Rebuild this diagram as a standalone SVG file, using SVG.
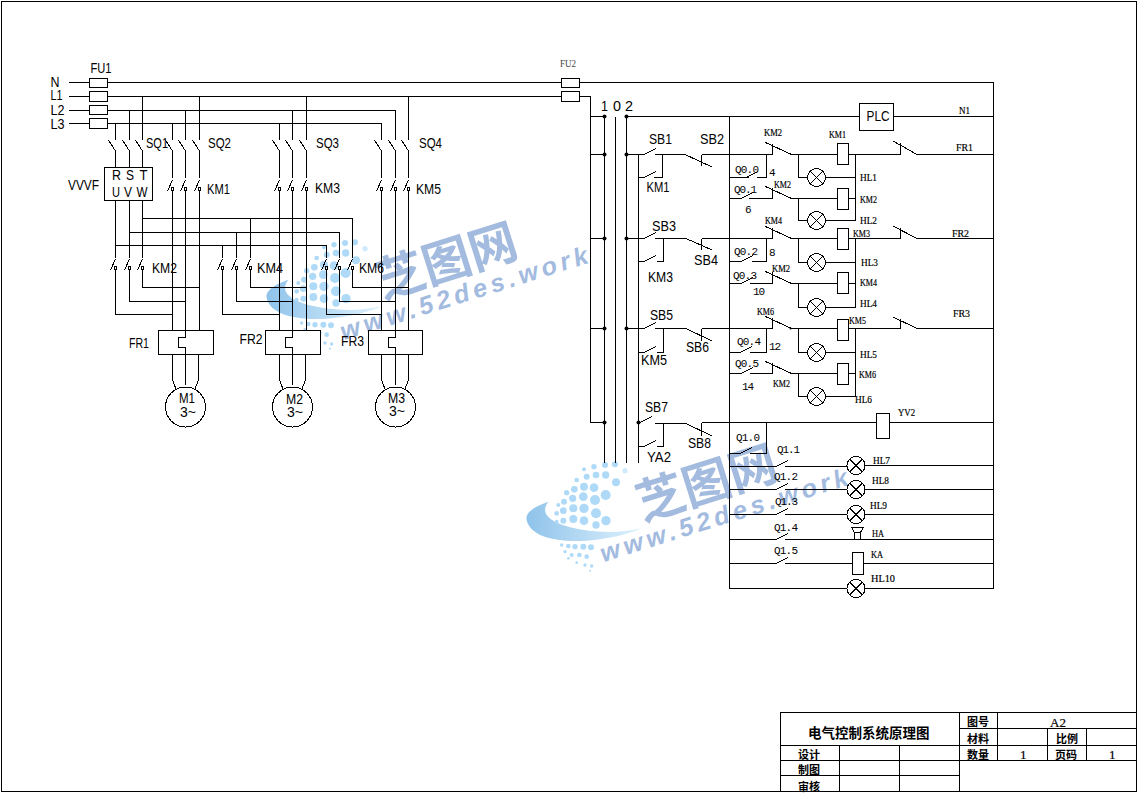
<svg xmlns="http://www.w3.org/2000/svg" xmlns:xlink="http://www.w3.org/1999/xlink" width="1138" height="793" viewBox="0 0 1138 793">
<style>
.w{fill:none;stroke:#000;stroke-width:1;shape-rendering:crispEdges}
.n{fill:#fff;stroke:#000;stroke-width:1;shape-rendering:crispEdges}
.nf{fill:none;stroke:#000;stroke-width:1;shape-rendering:crispEdges}
text{fill:#000}
.s{font:14px "Liberation Sans",sans-serif}
.m{font:11px "Liberation Mono",monospace}
.b{font:11px "Liberation Serif",serif;stroke:#000;stroke-width:.2}
.t{font:bold 11px "Noto Sans CJK SC",sans-serif}
.wd{fill:#aedaf8}
</style>
<defs>
<linearGradient id="sw" x1="0" x2="1" y1="0" y2="0"><stop offset="0" stop-color="#8fc3ea"/><stop offset="1" stop-color="#dff2fd"/></linearGradient>
<g id="wm">
<path fill="url(#sw)" d="M85 155C40 170 15 190 20 210C30 260 110 278 200 272C260 268 320 255 365 235C300 250 220 250 150 232C100 218 55 195 85 155Z"/>
<g class="wd">
<circle cx="315" cy="62" r="8" fill="#cfeafc"/><circle cx="285" cy="43" r="9"/><circle cx="255" cy="45" r="9"/><circle cx="222" cy="50" r="8"/><circle cx="192" cy="58" r="6"/>
<circle cx="288" cy="97" r="12"/><circle cx="257" cy="75" r="11"/><circle cx="228" cy="75" r="10"/><circle cx="200" cy="80" r="9"/><circle cx="170" cy="90" r="7"/>
<circle cx="257" cy="135" r="15"/><circle cx="222" cy="113" r="13"/><circle cx="192" cy="110" r="12"/><circle cx="163" cy="118" r="10"/><circle cx="140" cy="128" r="8"/>
<circle cx="225" cy="150" r="15"/><circle cx="190" cy="140" r="13"/><circle cx="158" cy="145" r="11"/><circle cx="132" cy="155" r="9"/><circle cx="115" cy="165" r="6"/>
<circle cx="258" cy="212" r="14"/><circle cx="228" cy="190" r="15"/><circle cx="192" cy="175" r="14"/><circle cx="160" cy="175" r="12"/><circle cx="130" cy="182" r="10"/><circle cx="110" cy="190" r="7"/>
<circle cx="228" cy="225" r="11"/><circle cx="192" cy="212" r="13"/><circle cx="160" cy="207" r="12"/><circle cx="130" cy="212" r="9"/><circle cx="110" cy="215" r="6"/>
<circle cx="213" cy="292" r="9"/><circle cx="190" cy="290" r="9"/><circle cx="165" cy="290" r="8"/><circle cx="145" cy="288" r="7"/><circle cx="125" cy="285" r="5"/>
<circle cx="200" cy="320" r="7"/><circle cx="178" cy="315" r="7"/><circle cx="155" cy="315" r="6"/><circle cx="135" cy="305" r="5"/>
<circle cx="215" cy="348" r="5"/><circle cx="195" cy="345" r="5"/><circle cx="170" cy="338" r="4"/><circle cx="145" cy="325" r="4"/><circle cx="210" cy="362" r="3"/>
</g>
<text x="368" y="214" transform="rotate(-17.5 368 214)" style="font:bold 145px 'Noto Sans CJK SC',sans-serif;fill:#a3bbdf">芝图网</text>
<text x="250" y="337" transform="rotate(-17.5 250 337)" textLength="775" lengthAdjust="spacing" style="font:italic bold 76px 'Liberation Sans',sans-serif;fill:#a3bbdf">www.52des.work</text>
</g>
<g id="lamp"><circle class="n" r="9"/><path class="nf" d="M-6.4 -6.4L6.4 6.4M-6.4 6.4L6.4 -6.4"/></g>
<g id="coil"><rect class="n" x="0" y="0" width="11" height="21"/></g>
<path id="hi" class="nf" d="M-7 0L0 11"/>
<g id="lo"><path class="nf" d="M-5 12L0 1"/><circle class="nf" cx="0" cy="10" r="1.5"/></g>
<path id="no" class="nf" d="M0 0L12 -6"/>
<g id="nc"><path class="nf" d="M0 -11V0M-7 -12L19 0"/></g>
</defs>

<rect id="frame" class="nf" x="1.5" y="1.5" width="1135" height="790"/>
<use xlink:href="#wm" href="#wm" transform="translate(260 228) scale(.3333)"/>
<use xlink:href="#wm" href="#wm" transform="translate(520 450) scale(.3333)"/>

<g id="connectors">
<path class="w" d="M69 82.5H993.5V588.5H729.5V116.5M69 96.5H590.5V422.5H604.5M69 110.5H395.5V140M69 123.5H381.5V140
M590.5 116.5H604.5M590.5 154.5H604.5M590.5 238.5H604.5M590.5 328.5H604.5M604.5 116.5V463M615.5 116.5V463M626.5 116.5V463M638.5 154.5V463
M626.5 116.5H859.5M894 116.5H993.5"/>
<path class="w" d="M115.5 123.5V140M115.5 151V167M129.5 110.5V140M129.5 151V167M142.5 96.5V140M142.5 151V167
M172.5 123.5V140M172.5 151V178M172.5 191V330M185.5 110.5V140M185.5 151V178M185.5 191V330M199.5 96.5V140M199.5 151V178M199.5 191V330
M279.5 123.5V140M279.5 151V178M279.5 191V330M292.5 110.5V140M292.5 151V178M292.5 191V330M306.5 96.5V140M306.5 151V178M306.5 191V330
M381.5 151V178M381.5 191V330M395.5 151V178M395.5 191V330M408.5 96.5V140M408.5 151V178M408.5 191V330
M115.5 200V258M129.5 200V258M142.5 200V258
M142.5 218.5H352.5V258M129.5 232.5H339.5V258M115.5 245.5H326.5V258
M250.5 218.5V258M236.5 232.5V258M222.5 245.5V258
M115.5 270V314.5H172.5M129.5 270V301.5H185.5M142.5 270V287.5H199.5
M222.5 270V314.5H279.5M236.5 270V301.5H292.5M250.5 270V287.5H306.5
M326.5 270V314.5H381.5M339.5 270V301.5H395.5M352.5 270V287.5H408.5
M172.5 354V380L176 389M185.5 354V385M198.5 354V380L195 389
M279.5 354V380L283 389M292.5 354V385M305.5 354V380L302 389
M381.5 354V380L385 389M395.5 354V385M408.5 354V380L405 389"/>
<path class="w" d="M626.5 154.5H644M655 154.5H685M701.5 154.5H729.5M638.5 177.5H644M654 177.5H662.5V154.5
M626.5 238.5H644M655 238.5H686M701.5 238.5H729.5M638.5 261.5H644M657 261.5H663.5V238.5
M626.5 328.5H644M655 328.5H686M701.5 328.5H729.5M638.5 352.5H644M657 352.5H663.5V328.5
M638.5 422.5H640M655 423.5H686M701.5 422.5H875.5M889.5 422.5H993.5M638.5 446.5H644M657 446.5H663.5V423.5
M729.5 154.5H772.5M791 154.5H837M848 154.5H900.5M917 154.5H993.5M798.5 154.5V177.5H807M825 177.5H855.5M855.5 154.5V220.5H825M848 198.5H855.5
M729.5 177.5H749M757 177.5H766.5V154.5M729.5 198.5H741M749 198.5H772.5V188M790 198.5H837M798.5 198.5V220.5H807
M729.5 238.5H772.5M791 238.5H837M848 238.5H900.5M917 238.5H993.5M798.5 238.5V262.5H807M825 262.5H855.5M855.5 238.5V307.5H825M848 283.5H855.5
M729.5 261.5H741M752 261.5H766.5V238.5M729.5 283.5H741M750 283.5H772.5V272M790 283.5H837M798.5 283.5V307.5H807
M729.5 328.5H772.5M791 328.5H837M848 328.5H900.5M917 328.5H993.5M798.5 328.5V352.5H807M825 352.5H855.5M855.5 328.5V396.5H825M848 373.5H855.5
M729.5 352.5H740M750 352.5H766.5V328.5M729.5 373.5H741M750 373.5H772.5V363M790 373.5H837M798.5 373.5V396.5H807
M729.5 453.5H740M750 453.5H766.5V422.5
M729.5 466.5H776M785 466.5H847M865 465.5H993.5M729.5 489.5H776M785 489.5H847M865 489.5H993.5M729.5 514.5H776M785 514.5H847M865 514.5H993.5M729.5 539.5H776M785 539.5H993.5M729.5 563.5H776M785 563.5H852M863 563.5H993.5"/>
<path class="w" d="M685 154.5L712 167M701.5 154.5V166M686 238.5L712 250M701.5 238.5V250M686 328.5L712 341M701.5 328.5V341M686 423.5L712 436M701.5 422.5V436"/>
<path class="w" d="M900.5 143V154.5M893 141L917 154.5M900.5 228V238.5M893 226L917 238.5M900.5 319V328.5M893 317L917 328.5"/>
</g>

<g id="contacts">
<use href="#hi" x="115.5" y="140"/><use href="#hi" x="129.5" y="140"/><use href="#hi" x="142.5" y="140"/>
<use href="#hi" x="172.5" y="140"/><use href="#hi" x="185.5" y="140"/><use href="#hi" x="199.5" y="140"/>
<use href="#hi" x="279.5" y="140"/><use href="#hi" x="292.5" y="140"/><use href="#hi" x="306.5" y="140"/>
<use href="#hi" x="381.5" y="140"/><use href="#hi" x="395.5" y="140"/><use href="#hi" x="408.5" y="140"/>
<use href="#lo" x="172.5" y="179"/><use href="#lo" x="185.5" y="179"/><use href="#lo" x="199.5" y="179"/>
<use href="#lo" x="279.5" y="179"/><use href="#lo" x="292.5" y="179"/><use href="#lo" x="306.5" y="179"/>
<use href="#lo" x="381.5" y="179"/><use href="#lo" x="395.5" y="179"/><use href="#lo" x="408.5" y="179"/>
<use href="#lo" x="115.5" y="258"/><use href="#lo" x="129.5" y="258"/><use href="#lo" x="142.5" y="258"/>
<use href="#lo" x="222.5" y="258"/><use href="#lo" x="236.5" y="258"/><use href="#lo" x="250.5" y="258"/>
<use href="#lo" x="326.5" y="258"/><use href="#lo" x="339.5" y="258"/><use href="#lo" x="352.5" y="258"/>
<use href="#no" x="644" y="154.5"/><use href="#no" x="644" y="177.5"/><use href="#no" x="644" y="238.5"/><use href="#no" x="644" y="261.5"/>
<use href="#no" x="644" y="328.5"/><use href="#no" x="644" y="352.5"/><use href="#no" x="640" y="422.5"/><use href="#no" x="644" y="446.5"/>
<use href="#no" x="746" y="177.5"/><use href="#no" x="741" y="198.5"/><use href="#no" x="741" y="261.5"/><use href="#no" x="741" y="283.5"/>
<use href="#no" x="740" y="352.5"/><use href="#no" x="741" y="373.5"/><use href="#no" x="740" y="453.5"/>
<use href="#no" x="776" y="466.5"/><use href="#no" x="776" y="489.5"/><use href="#no" x="776" y="514.5"/><use href="#no" x="776" y="539.5"/><use href="#no" x="776" y="563.5"/>
<use href="#nc" x="772.5" y="154.5"/><use href="#nc" x="772.5" y="198.5"/><use href="#nc" x="772.5" y="238.5"/><use href="#nc" x="772.5" y="283.5"/><use href="#nc" x="772.5" y="328.5"/><use href="#nc" x="772.5" y="373.5"/>
<circle cx="790.5" cy="328.5" r="1" fill="#000"/>
</g>

<g id="junctions" fill="#000">
<circle cx="604.5" cy="116.5" r="2"/><circle cx="626.5" cy="116.5" r="2"/><circle cx="604.5" cy="154.5" r="2"/><circle cx="626.5" cy="154.5" r="2"/>
<circle cx="604.5" cy="238.5" r="2"/><circle cx="626.5" cy="238.5" r="2"/><circle cx="604.5" cy="328.5" r="2"/><circle cx="626.5" cy="328.5" r="2"/>
<circle cx="604.5" cy="422.5" r="2"/><circle cx="638.5" cy="422.5" r="2"/>
</g>

<g id="FU1">
<rect class="n" x="89.5" y="78.5" width="18" height="9"/><rect class="n" x="89.5" y="91.5" width="18" height="10"/><rect class="n" x="89.5" y="105.5" width="18" height="9"/><rect class="n" x="89.5" y="118.5" width="18" height="10"/>
<text class="s" x="90.5" y="73" textLength="21" lengthAdjust="spacingAndGlyphs">FU1</text>
<text class="s" x="50.5" y="87" textLength="9" lengthAdjust="spacingAndGlyphs">N</text>
<text class="s" x="50.5" y="100" textLength="12" lengthAdjust="spacingAndGlyphs">L1</text>
<text class="s" x="50.5" y="115" textLength="14" lengthAdjust="spacingAndGlyphs">L2</text>
<text class="s" x="50.5" y="129" textLength="14" lengthAdjust="spacingAndGlyphs">L3</text>
</g>
<g id="FU2">
<rect class="n" x="561.5" y="78.5" width="18" height="9"/><rect class="n" x="561.5" y="91.5" width="18" height="10"/>
<text class="b" x="560" y="67" textLength="16" lengthAdjust="spacingAndGlyphs" style="fill:#444;stroke:none">FU2</text>
</g>
<g id="VVVF">
<rect class="n" x="104.5" y="167.5" width="48" height="33"/>
<text class="s" x="68" y="190" textLength="31" lengthAdjust="spacingAndGlyphs">VVVF</text>
<text class="s" x="112" y="180" textLength="9" lengthAdjust="spacingAndGlyphs">R</text><text class="s" x="126" y="180" textLength="8" lengthAdjust="spacingAndGlyphs">S</text><text class="s" x="139.5" y="180" textLength="8" lengthAdjust="spacingAndGlyphs">T</text>
<text class="s" x="112" y="197" textLength="8" lengthAdjust="spacingAndGlyphs">U</text><text class="s" x="124" y="197" textLength="8" lengthAdjust="spacingAndGlyphs">V</text><text class="s" x="136.5" y="197" textLength="11" lengthAdjust="spacingAndGlyphs">W</text>
</g>
<g id="switch-labels">
<text class="s" x="146" y="148" textLength="22" lengthAdjust="spacingAndGlyphs">SQ1</text>
<text class="s" x="208" y="148" textLength="23" lengthAdjust="spacingAndGlyphs">SQ2</text>
<text class="s" x="316" y="148" textLength="23" lengthAdjust="spacingAndGlyphs">SQ3</text>
<text class="s" x="419" y="148" textLength="23" lengthAdjust="spacingAndGlyphs">SQ4</text>
<text class="s" x="207" y="194" textLength="23" lengthAdjust="spacingAndGlyphs">KM1</text>
<text class="s" x="315" y="193" textLength="25" lengthAdjust="spacingAndGlyphs">KM3</text>
<text class="s" x="416" y="194" textLength="25" lengthAdjust="spacingAndGlyphs">KM5</text>
<text class="s" x="152" y="273" textLength="25" lengthAdjust="spacingAndGlyphs">KM2</text>
<text class="s" x="257" y="273" textLength="26" lengthAdjust="spacingAndGlyphs">KM4</text>
<text class="s" x="359" y="273" textLength="25" lengthAdjust="spacingAndGlyphs">KM6</text>
</g>
<g id="FR1"><path class="n" d="M158.5 330.5H213.5V354.5H158.5Z"/><path class="nf" d="M185.5 330V337.5H178.5V347.5H185.5V354"/><text class="s" x="129" y="348" textLength="20" lengthAdjust="spacingAndGlyphs">FR1</text></g>
<g id="FR2"><path class="n" d="M265.5 330.5H320.5V354.5H265.5Z"/><path class="nf" d="M292.5 330V337.5H285.5V347.5H292.5V354"/><text class="s" x="239.5" y="344" textLength="23" lengthAdjust="spacingAndGlyphs">FR2</text></g>
<g id="FR3"><path class="n" d="M368.5 330.5H422.5V354.5H368.5Z"/><path class="nf" d="M395.5 330V337.5H388.5V347.5H395.5V354"/><text class="s" x="341" y="346" textLength="23" lengthAdjust="spacingAndGlyphs">FR3</text></g>
<g id="M1"><circle class="n" cx="185.5" cy="407" r="20"/><text class="s" x="179" y="403" textLength="16" lengthAdjust="spacingAndGlyphs">M1</text><text class="s" x="180" y="417" textLength="16" lengthAdjust="spacingAndGlyphs">3~</text></g>
<g id="M2"><circle class="n" cx="292.5" cy="407" r="20"/><text class="s" x="286" y="404" textLength="17" lengthAdjust="spacingAndGlyphs">M2</text><text class="s" x="287" y="417" textLength="16" lengthAdjust="spacingAndGlyphs">3~</text></g>
<g id="M3"><circle class="n" cx="395.5" cy="407" r="20"/><text class="s" x="388" y="403" textLength="17" lengthAdjust="spacingAndGlyphs">M3</text><text class="s" x="389" y="416" textLength="16" lengthAdjust="spacingAndGlyphs">3~</text></g>

<g id="bus-labels">
<text class="s" x="601" y="111" textLength="7" lengthAdjust="spacingAndGlyphs">1</text><text class="s" x="613" y="111" textLength="8" lengthAdjust="spacingAndGlyphs">0</text><text class="s" x="625" y="111" textLength="8" lengthAdjust="spacingAndGlyphs">2</text>
</g>
<g id="button-labels">
<text class="s" x="649" y="144" textLength="23" lengthAdjust="spacingAndGlyphs">SB1</text>
<text class="s" x="700" y="144" textLength="24" lengthAdjust="spacingAndGlyphs">SB2</text>
<text class="s" x="646.5" y="192" textLength="23" lengthAdjust="spacingAndGlyphs">KM1</text>
<text class="s" x="652" y="231" textLength="24" lengthAdjust="spacingAndGlyphs">SB3</text>
<text class="s" x="694" y="265" textLength="24" lengthAdjust="spacingAndGlyphs">SB4</text>
<text class="s" x="648" y="282" textLength="25" lengthAdjust="spacingAndGlyphs">KM3</text>
<text class="s" x="650" y="320" textLength="23" lengthAdjust="spacingAndGlyphs">SB5</text>
<text class="s" x="686" y="352" textLength="23" lengthAdjust="spacingAndGlyphs">SB6</text>
<text class="s" x="641" y="365" textLength="26" lengthAdjust="spacingAndGlyphs">KM5</text>
<text class="s" x="645" y="412" textLength="23" lengthAdjust="spacingAndGlyphs">SB7</text>
<text class="s" x="688" y="448" textLength="23" lengthAdjust="spacingAndGlyphs">SB8</text>
<text class="s" x="647" y="462" textLength="24" lengthAdjust="spacingAndGlyphs">YA2</text>
</g>
<g id="PLC"><rect class="n" x="859.5" y="103.5" width="34" height="27"/><text class="s" x="866.5" y="121" textLength="23" lengthAdjust="spacingAndGlyphs">PLC</text></g>

<g id="Q-labels">
<text class="m" x="735" y="173" textLength="24">Q0.0</text><text class="m" x="734" y="193" textLength="23">Q0.1</text>
<text class="m" x="734" y="255" textLength="24">Q0.2</text><text class="m" x="733" y="279" textLength="24">Q0.3</text>
<text class="m" x="737" y="345" textLength="24">Q0.4</text><text class="m" x="735" y="367" textLength="24">Q0.5</text>
<text class="m" x="736" y="441" textLength="24">Q1.0</text><text class="m" x="777" y="453" textLength="23">Q1.1</text>
<text class="m" x="774" y="480" textLength="24">Q1.2</text><text class="m" x="775" y="505" textLength="23">Q1.3</text>
<text class="m" x="774" y="531" textLength="24">Q1.4</text><text class="m" x="774" y="554" textLength="24">Q1.5</text>
<text class="m" x="769" y="176">4</text><text class="m" x="745" y="213">6</text><text class="m" x="769" y="256">8</text>
<text class="m" x="753" y="295" textLength="12">10</text><text class="m" x="769" y="350" textLength="12">12</text><text class="m" x="742" y="390" textLength="12">14</text>
</g>

<g id="coils">
<use href="#coil" x="837.5" y="143.5"/><use href="#coil" x="837.5" y="188.5"/><use href="#coil" x="837.5" y="228.5"/><use href="#coil" x="837.5" y="272.5"/><use href="#coil" x="837.5" y="319.5"/><use href="#coil" x="837.5" y="363.5"/>
<rect class="n" x="876.5" y="413.5" width="13" height="25"/>
<rect class="n" x="852.5" y="552.5" width="11" height="22"/>
</g>
<g id="lamps">
<use href="#lamp" x="816.5" y="177.5"/><use href="#lamp" x="816.5" y="220.5"/><use href="#lamp" x="816.5" y="262.5"/><use href="#lamp" x="816.5" y="307.5"/><use href="#lamp" x="816.5" y="352.5"/><use href="#lamp" x="816.5" y="396.5"/>
<use href="#lamp" x="856" y="465.5"/><use href="#lamp" x="856" y="489.5"/><use href="#lamp" x="856" y="514.5"/><use href="#lamp" x="856" y="588.5"/>
</g>
<g id="HA"><path class="n" d="M851.5 527.5H863.5L860.5 532.5H854.5ZM854.5 532.5V539.5M860.5 532.5V539.5"/><text class="b" x="872" y="537" textLength="12" lengthAdjust="spacingAndGlyphs">HA</text></g>

<g id="device-labels">
<text class="b" x="764" y="136" textLength="18" lengthAdjust="spacingAndGlyphs">KM2</text><text class="b" x="829" y="138" textLength="17" lengthAdjust="spacingAndGlyphs">KM1</text>
<text class="b" x="959" y="114" textLength="11" lengthAdjust="spacingAndGlyphs">N1</text><text class="b" x="956" y="151" textLength="17" lengthAdjust="spacingAndGlyphs">FR1</text>
<text class="b" x="860" y="181" textLength="17" lengthAdjust="spacingAndGlyphs">HL1</text><text class="b" x="774" y="188" textLength="17" lengthAdjust="spacingAndGlyphs">KM2</text>
<text class="b" x="860" y="203" textLength="17" lengthAdjust="spacingAndGlyphs">KM2</text><text class="b" x="860" y="224" textLength="17" lengthAdjust="spacingAndGlyphs">HL2</text>
<text class="b" x="765" y="224" textLength="17" lengthAdjust="spacingAndGlyphs">KM4</text><text class="b" x="853" y="237" textLength="17" lengthAdjust="spacingAndGlyphs">KM3</text>
<text class="b" x="952" y="237" textLength="17" lengthAdjust="spacingAndGlyphs">FR2</text><text class="b" x="861" y="266" textLength="17" lengthAdjust="spacingAndGlyphs">HL3</text>
<text class="b" x="772" y="272" textLength="18" lengthAdjust="spacingAndGlyphs">KM2</text><text class="b" x="860" y="286" textLength="17" lengthAdjust="spacingAndGlyphs">KM4</text>
<text class="b" x="860" y="307" textLength="17" lengthAdjust="spacingAndGlyphs">HL4</text><text class="b" x="757" y="315" textLength="17" lengthAdjust="spacingAndGlyphs">KM6</text>
<text class="b" x="849" y="324" textLength="17" lengthAdjust="spacingAndGlyphs">KM5</text><text class="b" x="953" y="317" textLength="17" lengthAdjust="spacingAndGlyphs">FR3</text>
<text class="b" x="860" y="358" textLength="17" lengthAdjust="spacingAndGlyphs">HL5</text><text class="b" x="859" y="378" textLength="17" lengthAdjust="spacingAndGlyphs">KM6</text>
<text class="b" x="773" y="387" textLength="17" lengthAdjust="spacingAndGlyphs">KM2</text><text class="b" x="855" y="403" textLength="17" lengthAdjust="spacingAndGlyphs">HL6</text>
<text class="b" x="898" y="416" textLength="17" lengthAdjust="spacingAndGlyphs">YV2</text><text class="b" x="873" y="464" textLength="17" lengthAdjust="spacingAndGlyphs">HL7</text>
<text class="b" x="872" y="484" textLength="17" lengthAdjust="spacingAndGlyphs">HL8</text><text class="b" x="870" y="509" textLength="17" lengthAdjust="spacingAndGlyphs">HL9</text>
<text class="b" x="871" y="558" textLength="12" lengthAdjust="spacingAndGlyphs">KA</text><text class="b" x="871" y="582" textLength="24" lengthAdjust="spacingAndGlyphs">HL10</text>
</g>

<g id="title-block">
<path class="nf" d="M780.5 791V712.5H1136.5M780.5 745.5H1136.5M780.5 760.5H1136.5M780.5 775.5H959.5M959.5 712.5V791M839.5 745.5V791M899.5 745.5V791M959.5 728.5H1136.5M997.5 712.5V760.5M1047.5 728.5V760.5M1086.5 728.5V760.5"/>
<text class="t" x="808" y="738" style="font-size:13.5px">电气控制系统原理图</text>
<text class="t" x="967" y="726">图号</text><text class="t" x="967" y="743">材料</text><text class="t" x="967" y="759">数量</text>
<text class="t" x="1056" y="743">比例</text><text class="t" x="1055" y="759">页码</text>
<text class="t" x="798" y="759">设计</text><text class="t" x="798" y="774">制图</text><text class="t" x="798" y="791">审核</text>
<text class="b" x="1050" y="727" style="font-size:13px">A2</text><text class="b" x="1020" y="759" style="font-size:13px">1</text><text class="b" x="1109" y="759" style="font-size:13px">1</text>
</g>
</svg>
